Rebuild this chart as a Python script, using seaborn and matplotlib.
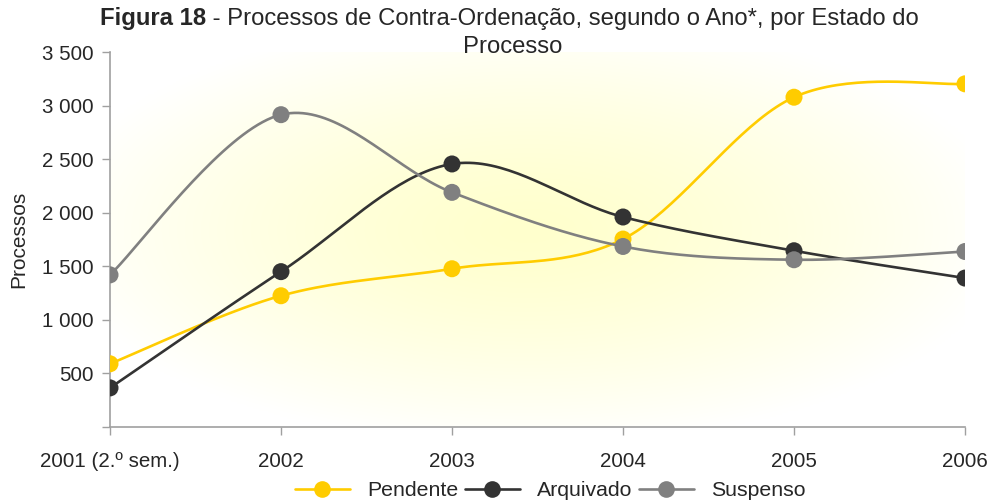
import numpy as np
import pandas as pd
import matplotlib
matplotlib.use("Agg")
import matplotlib.pyplot as plt
from matplotlib.lines import Line2D
import seaborn as sns

# dados
anos = ['2001 (2.º sem.)', '2002', '2003', '2004', '2005', '2006']
pendente = [590, 1225, 1477, 1754, 3078, 3203]
arquivado = [365, 1450, 2455, 1960, 1645, 1390]
suspenso = [1420, 2915, 2190, 1685, 1561, 1638]

estados = ['Pendente', 'Arquivado', 'Suspenso']
cores = {'Pendente': '#FFCC00', 'Arquivado': '#333333', 'Suspenso': '#808080'}

df = pd.DataFrame({'Ano': anos, 'Pendente': pendente,
                   'Arquivado': arquivado, 'Suspenso': suspenso})
df['pos'] = np.arange(len(anos))
df_long = df.melt(id_vars=['Ano', 'pos'], value_vars=estados,
                  var_name='Estado', value_name='Processos')


def suavizar(x, y, n=40):
    # curva tipo Catmull-Rom (como o "smooth line" do Excel)
    x = np.asarray(x, float)
    y = np.asarray(y, float)
    px = np.concatenate([[x[0]], x, [x[-1]]])
    py = np.concatenate([[y[0]], y, [y[-1]]])
    xs, ys = [], []
    for i in range(1, len(px) - 2):
        t = np.linspace(0, 1, n)
        for p, out in ((px, xs), (py, ys)):
            p0, p1, p2, p3 = p[i - 1], p[i], p[i + 1], p[i + 2]
            c1 = p1 + (p2 - p0) / 6
            c2 = p2 - (p3 - p1) / 6
            out.extend((1 - t) ** 3 * p1 + 3 * (1 - t) ** 2 * t * c1
                       + 3 * (1 - t) * t ** 2 * c2 + t ** 3 * p2)
    return np.array(xs), np.array(ys)


sns.set_style('white')
plt.rcParams['font.family'] = ['Liberation Sans', 'DejaVu Sans']

fig = plt.figure(figsize=(9.9, 5.04), dpi=100)
ax = fig.add_axes([110 / 990, 77 / 504, 855 / 990, 375 / 504])

# fundo com gradiente radial amarelo
gx, gy = np.meshgrid(np.linspace(-1, 1, 300), np.linspace(-1, 1, 200))
r = np.sqrt(((gx + 0.02) / 1.05) ** 2 + ((gy + 0.05) / 1.15) ** 2)
r = np.clip(r, 0, 1) ** 1.4
centro = np.array([255, 255, 205]) / 255
borda = np.array([255, 255, 255]) / 255
img = centro[None, None, :] * (1 - r[..., None]) + borda[None, None, :] * r[..., None]
ax.imshow(img, extent=[-0.2, 5.2, 0, 3500], aspect='auto', zorder=0,
          interpolation='bilinear')

for est in estados:
    sub = df_long[df_long['Estado'] == est]
    xs, ys = suavizar(sub['pos'], sub['Processos'])
    ax.plot(xs, ys, color=cores[est], lw=1.9, zorder=2)

sns.scatterplot(data=df_long, x='pos', y='Processos', hue='Estado',
                palette=cores, s=150, edgecolor='none', legend=False,
                ax=ax, zorder=3)

ax.set_xlim(0, 5)
ax.set_ylim(0, 3500)
ax.set_xticks(range(len(anos)))
ax.set_xticklabels(anos)
yt = list(range(0, 3501, 500))
ax.set_yticks(yt)
ax.set_yticklabels(['' if v == 0 else f'{v:,}'.replace(',', ' ') for v in yt])
ax.tick_params(axis='both', labelsize=14.8, length=6, width=1, color='#A0A0A0',
               direction='out', bottom=True, left=True, pad=6)
ax.tick_params(axis='x', pad=12)
ax.set_xlabel('')
ax.set_ylabel('Processos', fontsize=15, labelpad=10)
for s in ['top', 'right']:
    ax.spines[s].set_visible(False)
for s in ['left', 'bottom']:
    ax.spines[s].set_color('#A0A0A0')
    ax.spines[s].set_linewidth(1.2)

# título (parte em negrito + resto)
t1 = fig.text(100 / 990, 1 - 19 / 504, 'Figura 18', fontsize=17.2, fontweight='bold',
              ha='left', va='center')
fig.canvas.draw()
bb = t1.get_window_extent()
fig.text(bb.x1 / 990, 1 - 19 / 504,
         ' - Processos de Contra-Ordenação, segundo o Ano*, por Estado do',
         fontsize=17.2, ha='left', va='center')
fig.text(513 / 990, 1 - 47 / 504, 'Processo', fontsize=17.2, ha='center', va='center')

handles = [Line2D([0], [0], color=cores[e], lw=1.9, marker='o', markersize=12,
                  markeredgewidth=0) for e in estados]
fig.legend(handles, estados, loc='center', bbox_to_anchor=(550 / 990, 1 - 491 / 504),
           ncol=3, frameon=False, fontsize=15.3, handlelength=2.6,
           columnspacing=0.3, handletextpad=0.8)

fig.savefig('out.png', dpi=100)
